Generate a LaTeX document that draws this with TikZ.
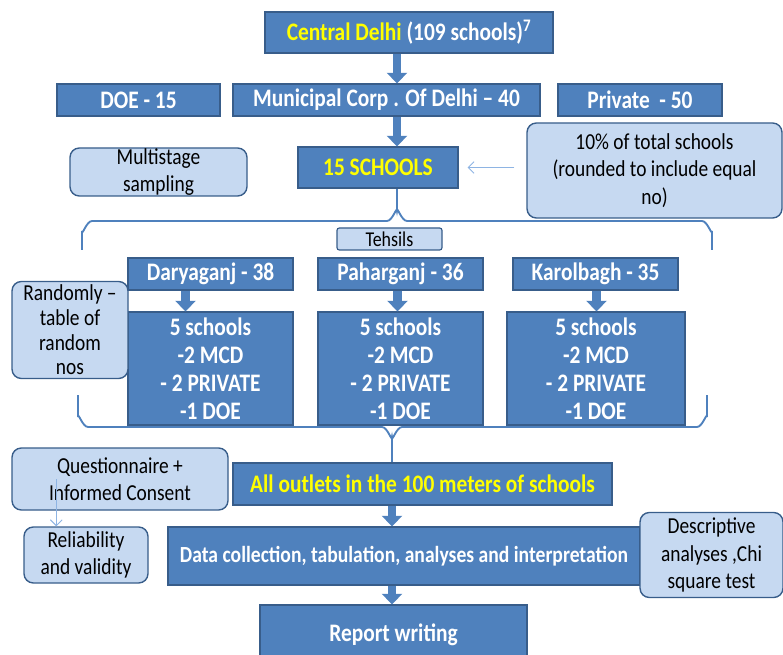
\documentclass[tikz,border=0pt]{standalone}
\usepackage{fontspec}
\setmainfont{Carlito}[FakeStretch=0.85]
\usetikzlibrary{arrows.meta}
\definecolor{boxblue}{HTML}{4F81BD}
\definecolor{edgeblue}{HTML}{385D8A}
\definecolor{paleblue}{HTML}{C6D9F1}
\definecolor{thinblue}{HTML}{8EB4E3}
\definecolor{hiyellow}{HTML}{FFFF00}
\newcommand{\px}{0.03cm}
\tikzset{
  darkbox/.style={draw=edgeblue, fill=boxblue, line width=1pt, text=white,
    font=\fontsize{21.5}{24}\selectfont\bfseries, align=center, inner sep=0pt},
  palebox/.style={draw=edgeblue, fill=paleblue, line width=1.2pt, rounded corners=8pt,
    font=\fontsize{19.5}{23.5}\selectfont, align=center, inner sep=0pt},
  blockarrow/.style={boxblue, line width=7pt, -{Triangle[width=17pt,length=9pt]}},
  thinarrow/.style={thinblue, line width=0.8pt, -{Straight Barb[length=5pt]}},
  bracket/.style={boxblue, line width=1.6pt},
}

\begin{document}
\begin{tikzpicture}[x=\px,y=-\px]
    \clip (0,0) rectangle (783,655);
    \node[darkbox, minimum width=288*\px, minimum height=41*\px] (central) at (409,32.5)
      {\textcolor{hiyellow}{Central Delhi} (109 schools)\textsuperscript{7}};
    \node[darkbox, minimum width=163*\px, minimum height=32*\px] (doe) at (138.5,100) {DOE - 15};
    \node[darkbox, minimum width=307*\px, minimum height=32*\px] (mcd) at (386.5,100) {Municipal Corp . Of Delhi -- 40};
    \node[darkbox, minimum width=164*\px, minimum height=32*\px] (private) at (640,100) {Private \ - 50};
    \node[darkbox, minimum width=160*\px, minimum height=41*\px, text=hiyellow] (fifteen) at (378,167.5) {15 SCHOOLS};
    \node[palebox, minimum width=177*\px, minimum height=48*\px] (multi) at (158.5,172) {Multistage\\sampling};
    \node[palebox, minimum width=255*\px, minimum height=95*\px] (tenpc) at (654.5,170.5)
      {10\% of total schools\\(rounded to include equal\\no)};

    \begin{scope}[bracket]
    \coordinate (topapex) at (397,211);
    \draw (82,250) -- (82,231) to[out=-90,in=180] (92,221) -- (387,221) to[out=0,in=90] (topapex)
          to[out=90,in=180] (407,221) -- (702,221) to[out=0,in=-90] (712,231) -- (712,250);
    \draw (fifteen.south -| topapex) -- (topapex);
    \coordinate (botapex) at (392,437);
    \draw (78,395) -- (78,417) to[out=90,in=180] (88,427) -- (382,427) to[out=0,in=-90] (botapex)
          to[out=-90,in=180] (402,427) -- (697,427) to[out=0,in=90] (707,417) -- (707,395);
    \end{scope}

    \node[palebox, rounded corners=2pt, line width=1pt, minimum width=105*\px, minimum height=22*\px,
      font=\fontsize{18}{20}\selectfont] (tehsils) at (389.5,239) {Tehsils};

    \node[darkbox, minimum width=165*\px, minimum height=32*\px] (dar) at (210.5,274) {Daryaganj - 38};
    \node[darkbox, minimum width=165*\px, minimum height=32*\px] (pah) at (400.5,274) {Paharganj - 36};
    \node[darkbox, minimum width=165*\px, minimum height=32*\px] (kar) at (595.5,274) {Karolbagh - 35};
    \node[darkbox, minimum width=165*\px, minimum height=113*\px] (sone) at (210.5,368.5)
      {5 schools\\-2 MCD\\- 2 PRIVATE\\-1 DOE};
    \node[darkbox, minimum width=165*\px, minimum height=113*\px] (stwo) at (400.5,368.5)
      {5 schools\\-2 MCD\\- 2 PRIVATE\\-1 DOE};
    \node[darkbox, minimum width=178*\px, minimum height=113*\px] (sthree) at (596,368.5)
      {5 schools\\-2 MCD\\- 2 PRIVATE\\-1 DOE};
    \node[palebox, minimum width=116*\px, minimum height=97*\px, font=\fontsize{19.5}{21}\selectfont] (random) at (70,330)
      {Randomly --\\table of\\random\\nos};

    \draw[blockarrow] ([xshift=-12*\px]central.south) -- ([xshift=-12*\px]central.south |- mcd.north);
    \draw[blockarrow] (mcd.south -| topapex) -- (fifteen.north -| topapex);
    \draw[blockarrow] ([xshift=-25*\px]dar.south) -- ([xshift=-25*\px]sone.north);
    \draw[blockarrow] ([xshift=-3*\px]pah.south) -- ([xshift=-3*\px]stwo.north);
    \draw[blockarrow] ([xshift=1*\px]kar.south) -- ([xshift=1*\px]kar.south |- sthree.north);
    \draw[thinarrow, shorten <=12*\px, shorten >=9*\px] (tenpc.west |- fifteen) -- (fifteen.east);

    \node[darkbox, minimum width=379*\px, minimum height=42*\px, text=hiyellow] (outlets) at (422.5,484)
      {All outlets in the 100 meters of schools};
    \draw[bracket] (botapex) -- (botapex |- outlets.north);
    \node[palebox, minimum width=216*\px, minimum height=62*\px] (quest) at (120,479)
      {Questionnaire +\\Informed Consent};
    \node[palebox, minimum width=124*\px, minimum height=56*\px] (reliab) at (86,555)
      {Reliability\\and validity};
    \draw[thinarrow] ([xshift=33*\px]reliab.north west |- quest.center) -- ([xshift=33*\px]reliab.north west);

    \node[darkbox, minimum width=472*\px, minimum height=58*\px, font=\fontsize{19.7}{24}\selectfont\bfseries] (data) at (404,556)
      {Data collection, tabulation, analyses and interpretation};
    \node[palebox, minimum width=143*\px, minimum height=85*\px] (descr) at (711.5,555)
      {Descriptive\\analyses ,Chi\\square test};
    \node[darkbox, minimum width=267*\px, minimum height=60*\px] (report) at (393.5,635) {Report writing};
    \draw[blockarrow] (outlets.south -| botapex) -- (data.north -| botapex);
    \draw[blockarrow] (data.south -| botapex) -- (report.north -| botapex);
\end{tikzpicture}
\end{document}
